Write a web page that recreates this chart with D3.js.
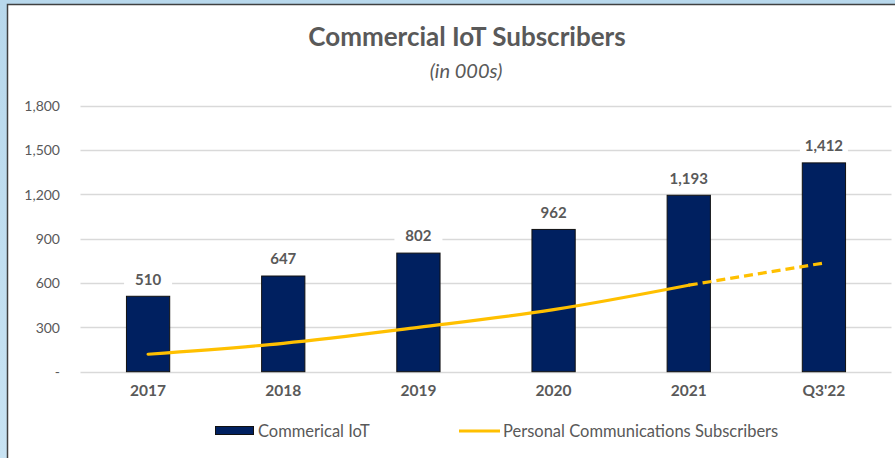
<!DOCTYPE html>
<html><head><meta charset="utf-8">
<script src="https://cdn.jsdelivr.net/npm/d3@7"></script>
<style>
html,body{margin:0;padding:0;background:#bcdcef;}
svg{display:block;}
</style></head>
<body>
<svg id="chart" width="895" height="458"></svg>
<script>
const categories = ["2017","2018","2019","2020","2021","Q3'22"];
const iotValues = [510, 647, 802, 962, 1193, 1412];
const personalValues = [118, 192, 300, 420, 585, 735];
const yTicks = [0, 300, 600, 900, 1200, 1500, 1800];
const seriesNames = ["Commerical IoT", "Personal Communications Subscribers"];

(function(){
const svg = d3.select("#chart");
const W = 895, H = 458;
const font = "Lato, 'Open Sans', sans-serif";
const textColor = "#595959";

const defs = svg.append("defs");
const g0 = defs.append("linearGradient").attr("id","bg").attr("x1",0).attr("y1",0).attr("x2",0).attr("y2",1);
g0.append("stop").attr("offset","0%").attr("stop-color","#b8d8ec");
g0.append("stop").attr("offset","100%").attr("stop-color","#c8e3f3");
svg.append("rect").attr("width",W).attr("height",H).attr("fill","url(#bg)");

svg.append("rect").attr("x",7.5).attr("y",4.5).attr("width",W).attr("height",H)
  .attr("fill","#ffffff").attr("stroke","#404040").attr("stroke-width",1.5);

const pLeft = 80.5, pRight = 891.5, pTop = 105.5, pBottom = 371.7;
const x = d3.scaleBand().domain(categories).range([pLeft, pRight]).paddingInner(0.68).paddingOuter(0.34);
const y = d3.scaleLinear().domain([0, 1800]).range([pBottom, pTop]);

svg.append("g").selectAll("line").data(yTicks).join("line")
  .attr("x1", pLeft).attr("x2", pRight)
  .attr("y1", d => Math.round(y(d)) + 0.5).attr("y2", d => Math.round(y(d)) + 0.5)
  .attr("stroke", "#d9d9d9").attr("stroke-width", 1.3);

const yAxis = d3.axisLeft(y).tickValues(yTicks).tickSize(0).tickPadding(0)
  .tickFormat(d => d === 0 ? "-" : d3.format(",")(d));
const ya = svg.append("g").attr("transform", `translate(60,0)`).call(yAxis);
ya.select(".domain").remove();
ya.selectAll("text").attr("font-family", font).attr("font-size", 14).attr("fill", textColor).attr("dy","0.35em");

const xAxis = d3.axisBottom(x).tickSize(0).tickPadding(0);
const xa = svg.append("g").attr("transform", `translate(0,${pBottom + 15})`).call(xAxis);
xa.select(".domain").remove();
xa.selectAll("text").attr("font-family", font).attr("font-size", 15.5).attr("font-weight", "bold").attr("fill", textColor).attr("dy","0.6em");

svg.append("g").selectAll("rect").data(iotValues).join("rect")
  .attr("x", (d,i) => x(categories[i]))
  .attr("width", x.bandwidth())
  .attr("y", d => y(d))
  .attr("height", d => y(0) - y(d))
  .attr("fill", "#002060").attr("stroke", "#111111").attr("stroke-width", 1);

const lbl = svg.append("g").selectAll("g").data(iotValues).join("g")
  .attr("transform", (d,i) => `translate(${x(categories[i]) + x.bandwidth()/2},${y(d) - 17})`);
lbl.append("rect").attr("x", -24).attr("y", -11).attr("width", 48).attr("height", 22).attr("fill", "#ffffff");
lbl.append("text").attr("text-anchor", "middle").attr("dy", "0.35em")
  .attr("font-family", font).attr("font-size", 15).attr("font-weight", "bold").attr("fill", textColor)
  .text(d => d3.format(",")(d));

const pts = personalValues.map((v,i) => [x(categories[i]) + x.bandwidth()/2, y(v)]);
const line = d3.line().curve(d3.curveMonotoneX);
svg.append("path").attr("d", line(pts.slice(0,5))).attr("fill","none")
  .attr("stroke","#ffc000").attr("stroke-width",3.2).attr("stroke-linecap","round");
svg.append("path").attr("d", line(pts.slice(4))).attr("fill","none")
  .attr("stroke","#ffc000").attr("stroke-width",3.2).attr("stroke-dasharray","9,5");

svg.append("text").attr("x", 467).attr("y", 46).attr("text-anchor","middle")
  .attr("font-family", font).attr("font-size", 26).attr("font-weight","bold").attr("fill", textColor)
  .text("Commercial IoT Subscribers");
svg.append("text").attr("x", 466).attr("y", 78).attr("text-anchor","middle")
  .attr("font-family", font).attr("font-size", 20).attr("font-style","italic").attr("fill", textColor)
  .text("(in 000s)");

const lg = svg.append("g");
lg.append("rect").attr("x", 215.5).attr("y", 426.5).attr("width", 38).attr("height", 8)
  .attr("fill","#002060").attr("stroke","#111111").attr("stroke-width",1);
lg.append("text").attr("x", 258).attr("y", 431).attr("dy","0.35em")
  .attr("font-family", font).attr("font-size", 16.5).attr("fill", textColor).text(seriesNames[0]);
lg.append("line").attr("x1", 459).attr("x2", 500).attr("y1", 431).attr("y2", 431)
  .attr("stroke","#ffc000").attr("stroke-width",3.2);
lg.append("text").attr("x", 503).attr("y", 431).attr("dy","0.35em")
  .attr("font-family", font).attr("font-size", 16.5).attr("fill", textColor).text(seriesNames[1]);
})();
</script>
</body></html>
